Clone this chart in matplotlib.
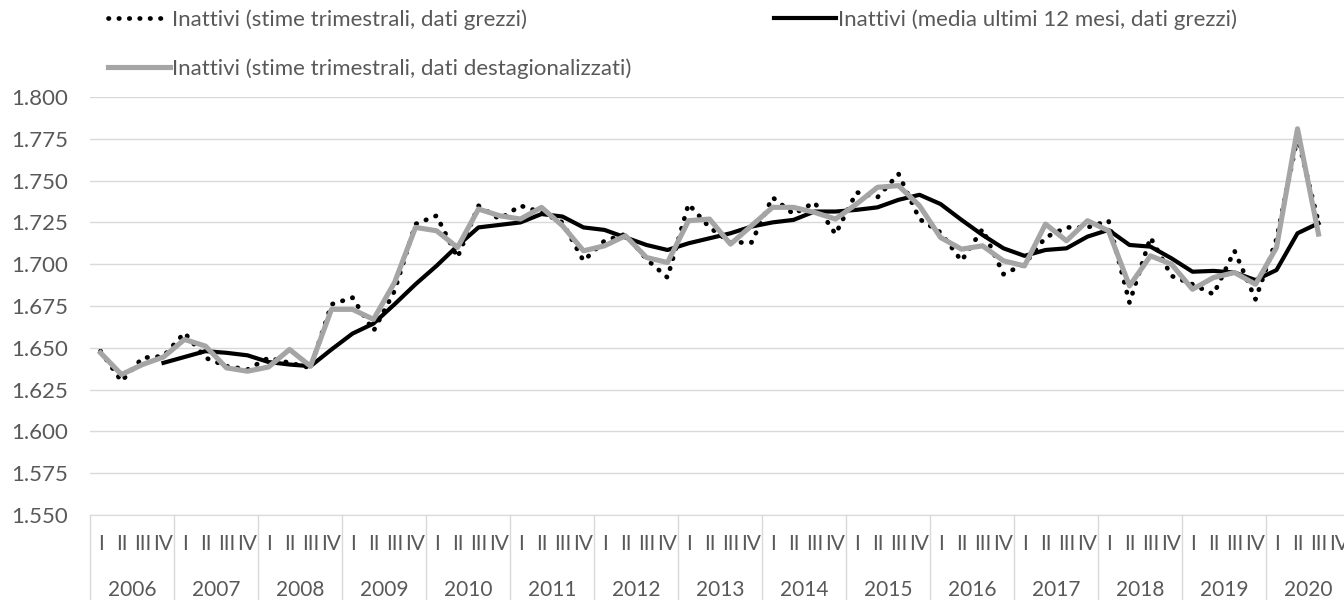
import matplotlib
matplotlib.use("Agg")
import matplotlib.pyplot as plt
import numpy as np

plt.rcParams['font.family'] = ['Lato', 'DejaVu Sans']

# quarterly data, thousands of people (2006 I .. 2020 III)
years = [str(y) for y in range(2006, 2021)]
quarters = ['I', 'II', 'III', 'IV']

raw = [1648, 1630, 1644, 1645,
       1659, 1644, 1639, 1637,
       1644, 1641, 1638, 1676,
       1680, 1660, 1684, 1724,
       1729, 1704, 1735, 1727,
       1735, 1731, 1725, 1702,
       1714, 1718, 1703, 1692,
       1736, 1722, 1713, 1713,
       1740, 1730, 1737, 1718,
       1743, 1740, 1754, 1727,
       1719, 1702, 1721, 1694,
       1700, 1716, 1722, 1722,
       1726, 1677, 1716, 1693,
       1688, 1682, 1708, 1679,
       1715, 1776, 1725]

destag = [1647, 1634, 1640, 1644.5,
          1655, 1651, 1638, 1636,
          1638.5, 1649, 1639, 1673,
          1673, 1667, 1689, 1722,
          1720, 1710, 1733, 1729,
          1727, 1734, 1723, 1708,
          1711, 1717, 1704, 1701,
          1726, 1727, 1712, 1723,
          1734, 1734, 1731, 1727,
          1736, 1746, 1747, 1735,
          1716, 1709, 1711, 1702,
          1699, 1724, 1714, 1726,
          1720, 1687, 1705, 1700,
          1685, 1692, 1695, 1688,
          1710, 1781, 1718]

# media ultimi 12 mesi, starts at 2006 IV
media12 = [1641,
           1644.5, 1648, 1647, 1645.5,
           1641.5, 1640, 1639, 1649,
           1658.5, 1664.5, 1676, 1688,
           1699, 1711, 1722, 1723.5,
           1725, 1730, 1728.5, 1722,
           1720.5, 1716, 1711.5, 1708.5,
           1712.5, 1715.5, 1718.5, 1722.5,
           1725, 1726.5, 1731.5, 1731.5,
           1732.5, 1734, 1738.5, 1741.5,
           1736, 1726.5, 1717.5, 1709.5,
           1705, 1708.5, 1709.5, 1716.5,
           1720.5, 1711.5, 1710.5, 1703.5,
           1695.5, 1696, 1695, 1690.5,
           1696.5, 1718.5, 1724.5]

n_q = len(years) * 4
x_raw = np.arange(len(raw))
x_media = np.arange(3, 3 + len(media12))

grid_col = '#d9d9d9'
txt_col = '#595959'

fig = plt.figure(figsize=(13.44, 6.0), dpi=100)
ax = fig.add_axes([90 / 1344, 1 - 515 / 600, 1260 / 1344, 418 / 600])

l1, = ax.plot(x_raw, raw, color='black', lw=3.4, linestyle=(0, (0.1, 2.1)),
              dash_capstyle='round', solid_capstyle='round', zorder=3)
l2, = ax.plot(x_media, media12, color='black', lw=3.0, zorder=4)
l3, = ax.plot(x_raw, destag, color='#a5a5a5', lw=3.7, zorder=5)

ax.set_ylim(1550, 1800)
ax.set_xlim(-0.5, n_q - 0.5)
yt = np.arange(1550, 1801, 25)
ax.set_yticks(yt)
ax.set_yticklabels(['{:,.0f}'.format(v).replace(',', '.') for v in yt],
                   fontsize=16, color=txt_col)
ax.yaxis.grid(True, color=grid_col, lw=1)
ax.set_axisbelow(True)
ax.tick_params(axis='y', length=0, pad=16)

ax.set_xticks(np.arange(n_q))
ax.set_xticklabels(quarters * len(years), fontsize=15, color=txt_col)
ax.tick_params(axis='x', length=0, pad=14)

for s in ['left', 'right', 'top']:
    ax.spines[s].set_visible(False)
ax.spines['bottom'].set_color(grid_col)

trans = ax.get_xaxis_transform()
for b in np.arange(-0.5, n_q, 4):
    ax.plot([b, b], [0, -0.25], color=grid_col, lw=1, transform=trans, clip_on=False)
for i, y in enumerate(years):
    ax.text(4 * i + 1.5, -0.18, y, transform=trans, ha='center', va='center',
            fontsize=15, color=txt_col)

fig.legend([l1, l3, l2],
           ['Inattivi (stime trimestrali, dati grezzi)',
            'Inattivi (stime trimestrali, dati destagionalizzati)',
            'Inattivi (media ultimi 12 mesi, dati grezzi)'],
           ncol=2, loc='upper left', bbox_to_anchor=(108 / 1344, 1 - 9 / 600),
           frameon=False, fontsize=16, labelcolor=txt_col, handlelength=2.8,
           handletextpad=0.1, columnspacing=6.4, labelspacing=1.3,
           borderpad=0, borderaxespad=0)

fig.savefig('out.png', dpi=100)
